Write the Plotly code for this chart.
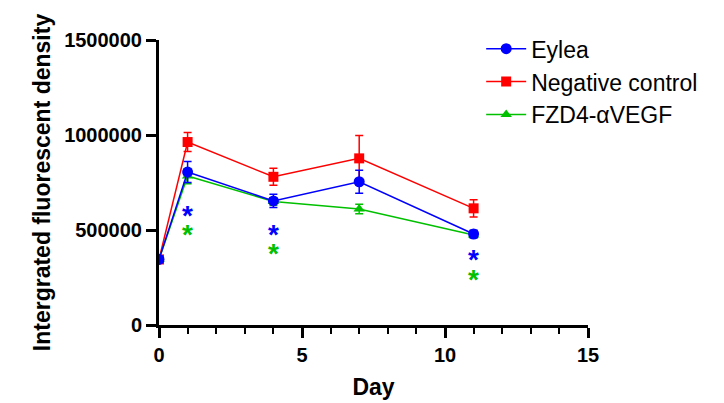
import plotly.graph_objects as go

days = [0, 1, 4, 7, 11]
eylea = [345000, 805000, 653000, 754000, 479000]
eylea_err = [15000, 55000, 35000, 60000, 20000]
neg = [345000, 963000, 780000, 877000, 614000]
neg_err = [15000, 50000, 45000, 120000, 45000]
fzd = [345000, 784000, 650000, 610000, 474000]
fzd_err = [15000, 40000, 20000, 25000, 15000]

star_days = [1, 4, 11]
star_blue = [600000, 495000, 365000]
star_green = [500000, 395000, 263000]

FONT = "Arial, Liberation Sans, sans-serif"
BLUE = "#0000ff"
RED = "#ff0000"
GREEN = "#00c000"

fig = go.Figure()

def add(name, y, err, color, symbol, size, rank):
    fig.add_trace(go.Scatter(
        x=days, y=y, name=name, mode="lines+markers",
        line=dict(color=color, width=1.5),
        marker=dict(color=color, symbol=symbol, size=size),
        error_y=dict(type="data", array=err, color=color, thickness=1.5, width=4),
        legendgroup=name, legendrank=rank,
    ))

add("Negative control", neg, neg_err, RED, "square", 10, 2)
add("FZD4-αVEGF", fzd, fzd_err, GREEN, "triangle-up", 10, 3)
add("Eylea", eylea, eylea_err, BLUE, "circle", 11, 1)

for d, yb, yg in zip(star_days, star_blue, star_green):
    fig.add_annotation(x=d, y=yb, text="<b>*</b>", showarrow=False, yshift=-4,
                       font=dict(family=FONT, size=28, color=BLUE))
    fig.add_annotation(x=d, y=yg, text="<b>*</b>", showarrow=False, yshift=-4,
                       font=dict(family=FONT, size=28, color=GREEN))

fig.update_layout(
    width=724, height=403,
    margin=dict(l=151, r=144, t=32, b=86),
    plot_bgcolor="white", paper_bgcolor="white",
    font=dict(family=FONT, color="black"),
    showlegend=True,
    legend=dict(x=0.751, y=1.045, xanchor="left", yanchor="top",
                font=dict(family=FONT, size=23, color="black"),
                traceorder="normal", tracegroupgap=2, itemwidth=40,
                bgcolor="rgba(0,0,0,0)"),
    xaxis=dict(
        range=[0, 15], tickvals=[0, 5, 10, 15],
        showline=True, linecolor="black", linewidth=3,
        ticks="outside", ticklen=10, tickwidth=3, tickcolor="black",
        minor=dict(dtick=1, ticks="outside", ticklen=6, tickwidth=2, tickcolor="black"),
        showgrid=False, zeroline=False,
        tickfont=dict(family=FONT, size=20, color="black", weight="bold"),
        title=dict(text="<b>Day</b>", font=dict(family=FONT, size=23, color="black"), standoff=14),
    ),
    yaxis=dict(
        range=[0, 1500000], tickvals=[0, 500000, 1000000, 1500000],
        ticktext=["0", "500000", "1000000", "1500000"],
        showline=True, linecolor="black", linewidth=3,
        ticks="outside", ticklen=10, tickwidth=3, tickcolor="black",
        showgrid=False, zeroline=False,
        tickfont=dict(family=FONT, size=20, color="black", weight="bold"),
        title=dict(text="<b>Intergrated fluorescent density</b>", font=dict(family=FONT, size=23, color="black"), standoff=8),
    ),
)

fig.write_html("out.html")
